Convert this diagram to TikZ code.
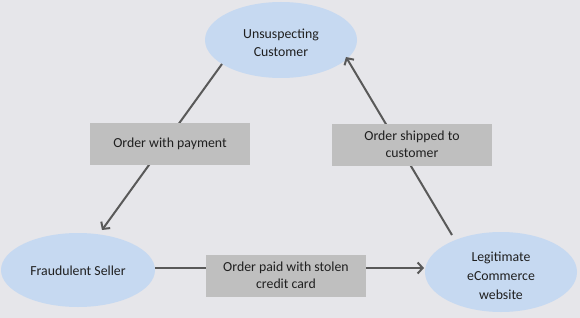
\documentclass[tikz,border=0pt]{standalone}
\usepackage{fontspec}
\setmainfont{Carlito}
\usetikzlibrary{arrows.meta,shapes.geometric}
\definecolor{bg}{HTML}{E6E6EA}
\definecolor{ellfill}{HTML}{C6D9F1}
\definecolor{boxfill}{HTML}{BFBFBF}
\definecolor{linec}{HTML}{595959}
\definecolor{txt}{HTML}{1F1F1F}
\begin{document}
\begin{tikzpicture}[x=1pt,y=-1pt,
  party/.style={ellipse,fill=ellfill,inner sep=0pt},
  partytext/.style={text=txt,align=center,inner sep=0pt,font=\fontsize{13.8}{#1}\selectfont},
  msgbox/.style={rectangle,fill=boxfill,inner sep=0pt,minimum width=160pt,minimum height=42pt,text=txt,align=center,font=\fontsize{13.8}{17.5}\selectfont},
  flow/.style={draw=linec,line width=2pt,-{Straight Barb[length=5pt,width=11pt,line width=2pt]}}]
\fill[bg] (0,0) rectangle (580,318);
\useasboundingbox (0,0) rectangle (580,318);
\node[party,minimum width=152pt,minimum height=76pt] (cust) at (281,40) {};
\node[party,minimum width=154pt,minimum height=74pt] (sell) at (78,270) {};
\node[party,minimum width=152pt,minimum height=80pt] (legit) at (501,272) {};
\node[partytext=18] (custt) at (281,43) {Unsuspecting\\Customer};
\node[partytext=18] (sellt) at (78,271) {Fraudulent Seller};
\node[partytext=19] (legitt) at (501,276) {Legitimate\\eCommerce\\website};
\coordinate (a1) at (222,64);
\coordinate (a2) at (102,230);
\coordinate (b1) at (452,235);
\coordinate (b2) at (346,57);
\coordinate (c1) at (155,268);
\coordinate (c2) at (424,268);
\draw[flow] (a1) -- (a2);
\draw[flow] (b1) -- (b2);
\draw[flow] (c1) -- (c2);
\node[msgbox] (m1) at (170,144) {Order with payment};
\node[msgbox] (m2) at (412,144.5) {Order shipped to\\customer};
\node[msgbox] (m3) at (286,275.5) {Order paid with stolen\\credit card};
\end{tikzpicture}
\end{document}
